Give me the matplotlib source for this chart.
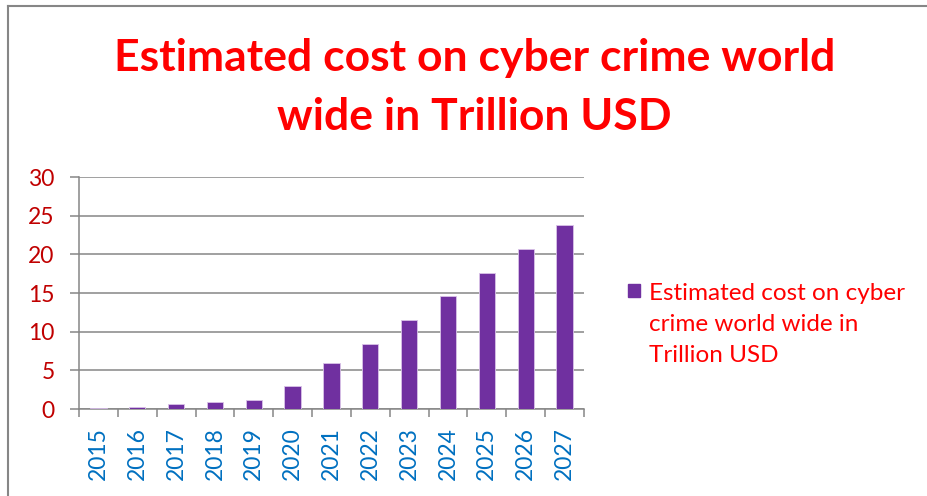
import matplotlib
matplotlib.use("Agg")
import matplotlib.pyplot as plt
from matplotlib.lines import Line2D
from matplotlib.patches import Rectangle

years = ["2015", "2016", "2017", "2018", "2019", "2020", "2021",
         "2022", "2023", "2024", "2025", "2026", "2027"]
cost_trillion_usd = [0.1, 0.25, 0.63, 0.86, 1.16, 2.95, 6.0,
                     8.44, 11.5, 14.57, 17.65, 20.74, 23.82]
y_ticks = [0, 5, 10, 15, 20, 25, 30]
series_name = "Estimated cost on cyber\ncrime world wide in\nTrillion USD"
title_text = "Estimated cost on cyber crime world\nwide in Trillion USD"
bar_color = "#7030A0"
grey = "#868686"

plt.rcParams['font.family'] = ['Lato', 'DejaVu Sans']

fig = plt.figure(figsize=(9.28, 4.96), dpi=100)
ax = fig.add_axes([0.0851, 0.1754, 0.5442, 0.4677])

x = list(range(len(years)))
ax.bar(x, cost_trillion_usd, width=0.42, color=bar_color,
       edgecolor="#D9C3E8", linewidth=0.6, zorder=3, label=series_name)

ax.set_xlim(-0.5, len(years) - 0.5)
ax.set_ylim(0, 30)
ax.set_yticks(y_ticks)
ax.set_yticklabels([str(v) for v in y_ticks], color="#C00000", fontsize=16.5)
ax.set_xticks(x)
ax.set_xticklabels(years, rotation=90, color="#0070C0", fontsize=16.5)
ax.tick_params(axis="x", length=0, pad=13)
ax.set_xticks([i - 0.5 for i in range(len(years) + 1)], minor=True)
ax.tick_params(axis="x", which="minor", length=5.8, width=1.1, color=grey)
ax.tick_params(axis="y", length=6.5, width=1.1, color=grey, pad=11)

ax.grid(axis="y", color=grey, linewidth=1.1, zorder=0)
for side in ["top", "right"]:
    ax.spines[side].set_visible(False)
for side in ["left", "bottom"]:
    ax.spines[side].set_color(grey)
    ax.spines[side].set_linewidth(1.1)

fig.text(0.511, 0.8236, title_text, ha="center", va="center",
         fontsize=32, fontweight="bold", color="#FF0000", linespacing=1.6)

# legend: colour swatch beside the series name
fig.add_artist(Rectangle((0.6767, 0.4012), 0.0129, 0.0262,
                         transform=fig.transFigure, color=bar_color))
fig.text(0.6994, 0.2702, series_name, ha="left", va="baseline",
         fontsize=17.5, color="#FF0000", linespacing=1.6)

# outer frame line on the left and top edges
fig.add_artist(Line2D([0.0086, 0.0086], [0, 0.988], transform=fig.transFigure,
                      color=grey, linewidth=1.5))
fig.add_artist(Line2D([0.0086, 1.0], [0.988, 0.988], transform=fig.transFigure,
                      color=grey, linewidth=1.5))

fig.savefig("out.png", dpi=100)
